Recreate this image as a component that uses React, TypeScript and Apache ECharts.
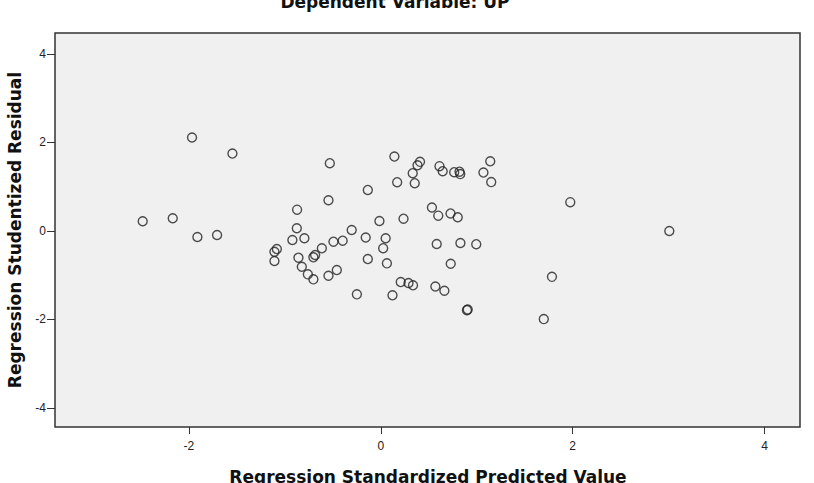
import React, { useEffect, useRef } from "react";
import * as echarts from "echarts";

const predicted: number[] = [
  -2.481, -2.168, -1.967, -1.911, -1.706, -1.546, -1.108, -1.083, -1.108, -0.921,
  -0.875, -0.872, -0.858, -0.796, -0.823, -0.76, -0.702, -0.702, -0.684, -0.614,
  -0.545, -0.458, -0.493, -0.397, -0.545, -0.531, -0.303, -0.249, -0.157, -0.135,
  -0.135, -0.014, 0.051, 0.025, 0.064, 0.122, 0.142, 0.171, 0.208, 0.237,
  0.289, 0.336, 0.333, 0.354, 0.383, 0.409, 0.533, 0.569, 0.583, 0.599,
  0.612, 0.645, 0.663, 0.729, 0.727, 0.765, 0.802, 0.821, 0.828, 0.83,
  0.898, 0.906, 0.995, 1.07, 1.141, 1.151, 1.699, 1.784, 1.975, 3.007,
];

const residual: number[] = [
  0.217, 0.285, 2.109, -0.138, -0.093, 1.747, -0.471, -0.41, -0.681, -0.206,
  0.059, 0.48, -0.606, -0.167, -0.81, -0.982, -1.095, -0.597, -0.545, -0.394,
  -1.014, -0.885, -0.244, -0.222, 0.692, 1.529, 0.02, -1.434, -0.149, 0.925,
  -0.636, 0.224, -0.167, -0.391, -0.733, -1.455, 1.679, 1.1, -1.156, 0.276,
  -1.179, -1.229, 1.303, 1.077, 1.482, 1.559, 0.529, -1.256, -0.296, 0.344,
  1.462, 1.348, -1.353, -0.742, 0.394, 1.326, 0.308, 1.337, 1.283, -0.274,
  -1.79, -1.774, -0.301, 1.317, 1.572, 1.102, -1.993, -1.038, 0.649, -0.002,
];

const xTicks: number[] = [-2, 0, 2, 4];
const yTicks: number[] = [-4, -2, 0, 2, 4];

const titleText = "Dependent Variable: UP";
const xTitle = "Regression Standardized Predicted Value";
const yTitle = "Regression Studentized Residual";

export default function App() {
  const ref = useRef<HTMLDivElement>(null);

  useEffect(() => {
    if (!ref.current) return;
    const chart = echarts.init(ref.current, undefined, { renderer: "svg" });
    const data = predicted.map((x, i) => [x, residual[i]]);
    const tickLabel = {
      color: "#222",
      fontFamily: "Liberation Sans, Arial, sans-serif",
      fontSize: 12,
    };
    chart.setOption({
      animation: false,
      backgroundColor: "#ffffff",
      grid: {
        left: 55,
        right: 14,
        top: 33,
        bottom: 56,
        show: true,
        backgroundColor: "#f0f0f0",
        borderColor: "#333333",
        borderWidth: 1.5,
      },
      xAxis: {
        type: "value",
        min: -3.395,
        max: 4.369,
        splitLine: { show: false },
        axisLine: { show: false, onZero: false },
        axisTick: {
          show: true,
          customValues: xTicks,
          length: 7,
          lineStyle: { color: "#333", width: 1 },
        },
        axisLabel: {
          customValues: xTicks,
          margin: 13,
          ...tickLabel,
        },
      },
      yAxis: {
        type: "value",
        min: -4.43,
        max: 4.47,
        splitLine: { show: false },
        axisLine: { show: false, onZero: false },
        axisTick: {
          show: true,
          customValues: yTicks,
          length: 8,
          lineStyle: { color: "#333", width: 1 },
        },
        axisLabel: {
          customValues: yTicks,
          margin: 9,
          ...tickLabel,
        },
      },
      graphic: [
        {
          type: "text",
          x: 395,
          y: 2,
          style: {
            text: titleText,
            font: "bold 17px 'DejaVu Sans'",
            fill: "#111",
            align: "center",
            verticalAlign: "middle",
          },
        },
        {
          type: "text",
          x: 428,
          y: 477,
          style: {
            text: xTitle,
            font: "bold 17px 'DejaVu Sans'",
            fill: "#111",
            align: "center",
            verticalAlign: "middle",
          },
        },
        {
          type: "text",
          x: 15,
          y: 230,
          rotation: Math.PI / 2,
          style: {
            text: yTitle,
            font: "bold 17px 'DejaVu Sans'",
            fill: "#111",
            align: "center",
            verticalAlign: "middle",
          },
        },
      ],
      series: [
        {
          type: "scatter",
          data,
          symbol: "circle",
          symbolSize: 9,
          itemStyle: {
            color: "rgba(0,0,0,0)",
            borderColor: "#222",
            borderWidth: 1.4,
          },
        },
      ],
    });
    return () => chart.dispose();
  }, []);

  return (
    <div
      ref={ref}
      style={{ position: "fixed", left: 0, top: 0, width: 814, height: 483 }}
    />
  );
}
